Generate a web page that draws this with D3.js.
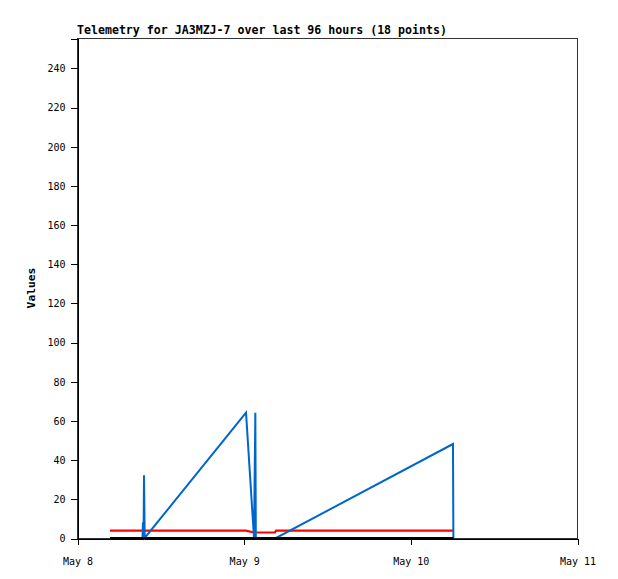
<!DOCTYPE html>
<html>
<head>
<meta charset="utf-8">
<script src="https://cdn.jsdelivr.net/npm/d3@7"></script>
<style>
  html, body { margin: 0; padding: 0; background: #fff; }
  svg { display: block; }
</style>
</head>
<body>
<svg id="chart" width="618" height="579"></svg>
<script>
// ---- data (hours after May 8 00:00 UTC) ----
const hoursSinceStart = [4.75, 9.43, 9.50, 9.58, 9.65, 9.75, 24.34, 25.49, 25.68, 25.75, 28.5, 28.66, 54.14, 54.2];
const seriesBlack = [0, 0, 0, 0, 0, 0, 0, 0, 0, 0, 0, 0, 0, 0];
const seriesRed   = [3.8, 3.8, 3.8, 3.8, 3.8, 3.8, 3.8, 2.8, 2.8, 2.8, 2.8, 3.8, 3.8, 3.8];
const seriesBlue  = [0, 0, 8, 0, 32, 0, 64, 0, 64, 0, 0, 0, 48, 0];
const yTicks = [0, 20, 40, 60, 80, 100, 120, 140, 160, 180, 200, 220, 240];
const xTickLabels = ["May 8", "May 9", "May 10", "May 11"];
const titleText = "Telemetry for JA3MZJ-7 over last 96 hours (18 points)";
const yLabel = "Values";

const start = Date.UTC(2024, 4, 8);
const H = 3600 * 1000;
const times = hoursSinceStart.map(h => new Date(start + h * H));
const xTickDates = xTickLabels.map((_, i) => new Date(start + i * 24 * H));

const svg = d3.select("#chart");
const L = 77, R = 577, T = 38, B = 538;

const x = d3.scaleTime().domain([new Date(start), new Date(start + 72 * H)]).range([L, R]);
const y = d3.scaleLinear().domain([0, 255.3]).range([B, T]);

// title
svg.append("text")
  .attr("x", L).attr("y", 34)
  .attr("font-family", "DejaVu Sans Mono, monospace")
  .attr("font-size", "11.6px").attr("font-weight", "bold")
  .attr("fill", "#000")
  .text(titleText);

// frame
svg.append("rect")
  .attr("x", L + 0.5).attr("y", T + 0.5)
  .attr("width", R - L).attr("height", B - T)
  .attr("fill", "none").attr("stroke", "#333").attr("stroke-width", 1)
  .attr("shape-rendering", "crispEdges");

// y axis
const yAxis = d3.axisLeft(y).tickValues(yTicks).tickSize(7).tickPadding(5).tickFormat(d3.format("d"));
const gy = svg.append("g").attr("transform", `translate(${L + 0.5},0.5)`).call(yAxis);
gy.select(".domain").attr("stroke", "#000").attr("shape-rendering", "crispEdges");
gy.selectAll(".tick line").attr("stroke", "#000").attr("shape-rendering", "crispEdges");
gy.selectAll("text").attr("font-family", "DejaVu Sans Mono, monospace").attr("font-size", "10px").attr("fill", "#000");

// x axis
const xAxis = d3.axisBottom(x).tickValues(xTickDates).tickSize(6).tickPadding(13)
  .tickFormat((d, i) => xTickLabels[i]);
const gx = svg.append("g").attr("transform", `translate(0.5,${B + 0.5})`).call(xAxis);
gx.select(".domain").attr("stroke", "#000").attr("shape-rendering", "crispEdges");
gx.selectAll(".tick line").attr("stroke", "#000").attr("shape-rendering", "crispEdges");
gx.selectAll("text").attr("font-family", "DejaVu Sans Mono, monospace").attr("font-size", "10px").attr("fill", "#000");

// y label
svg.append("text")
  .attr("transform", `translate(35,288) rotate(-90)`)
  .attr("text-anchor", "middle")
  .attr("font-family", "DejaVu Sans Mono, monospace")
  .attr("font-size", "11.3px").attr("font-weight", "bold")
  .attr("fill", "#000")
  .text(yLabel);

// lines (red, then blue, then black on top)
const line = d3.line().x((d, i) => x(times[i])).y(d => y(d));
const series = [
  { values: seriesRed, color: "#ff0000", w: 2.2 },
  { values: seriesBlue, color: "#0066cc", w: 2 },
  { values: seriesBlack, color: "#000000", w: 2.2 }
];
svg.append("g").selectAll("path").data(series).join("path")
  .attr("d", d => line(d.values))
  .attr("fill", "none")
  .attr("stroke", d => d.color)
  .attr("stroke-width", d => d.w)
  .attr("stroke-linejoin", "miter");
</script>
</body>
</html>
